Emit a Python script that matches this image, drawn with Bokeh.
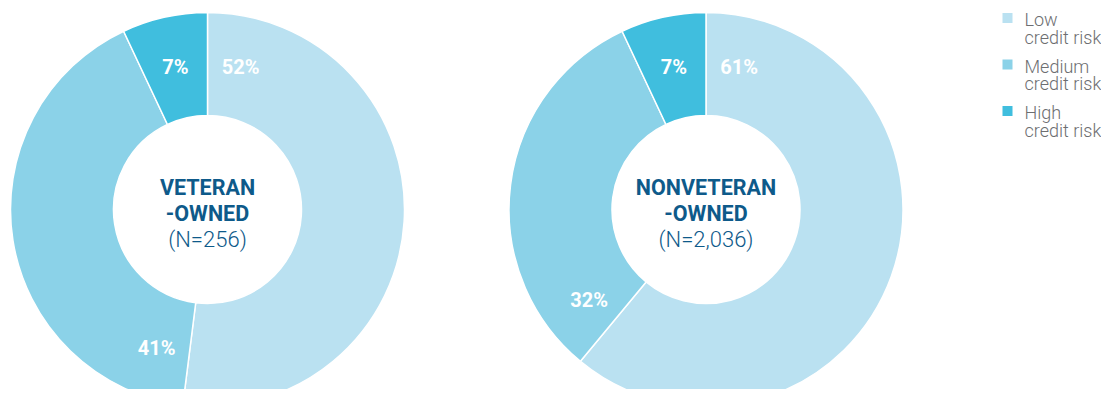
import math
from bokeh.plotting import figure
from bokeh.models import Range1d, ColumnDataSource
from bokeh.core.properties import value
from bokeh.embed import file_html
from bokeh.resources import INLINE

# ---- data ----
categories = ["Low", "Medium", "High"]
category_sub = ["credit risk", "credit risk", "credit risk"]
group_titles = ["VETERAN", "NONVETERAN"]
group_titles2 = ["-OWNED", "-OWNED"]
group_counts = ["(N=256)", "(N=2,036)"]
veteran = [52, 41, 7]
nonveteran = [61, 32, 7]
series = [veteran, nonveteran]

# ---- styles / layout ----
colors = ["#BAE1F1", "#8BD2E8", "#40BEDE"]
dark = "#0E5A8A"
grey = "#6D6E71"
W, H = 1101, 389
centers = [(207, 209), (705.5, 209)]  # image coords (x right, y down)
R_OUT, R_IN, R_LAB = 197, 94, 147

p = figure(width=W, height=H, x_range=Range1d(0, W), y_range=Range1d(0, H),
           output_backend="svg", toolbar_location=None, min_border=0,
           x_axis_type=None, y_axis_type=None)
p.grid.visible = False
p.outline_line_color = None
p.background_fill_color = "white"

bold = value("Roboto")
light = value("'Roboto Light', Roboto")

for (cx, cy_img), vals, t1, t2, tn in zip(centers, series, group_titles, group_titles2, group_counts):
    cy = H - cy_img
    total = float(sum(vals))
    cum = 0.0
    starts, ends, lx, ly, labels = [], [], [], [], []
    for v in vals:
        f0 = cum / total
        f1 = (cum + v) / total
        starts.append(math.pi / 2 - 2 * math.pi * f0)
        ends.append(math.pi / 2 - 2 * math.pi * f1)
        half = math.pi * (f1 - f0)
        a = 2 * math.pi * f0 + min(math.radians(13), half)
        lx.append(cx + R_LAB * math.sin(a))
        ly.append(cy + R_LAB * math.cos(a) - 1)
        labels.append(f"{v}%")
        cum += v
    src = ColumnDataSource(dict(start=starts, end=ends, color=colors))
    p.annular_wedge(x=cx, y=cy, inner_radius=R_IN, outer_radius=R_OUT,
                    start_angle="start", end_angle="end", direction="clock",
                    fill_color="color", line_color="white", line_width=1.5, source=src)
    p.text(x=lx, y=ly, text=labels, text_color="white", text_font=bold,
           text_font_style="bold", text_font_size="20px", text_align="center",
           text_baseline="middle")
    p.text(x=[cx, cx], y=[cy + 22, cy - 4], text=[t1, t2], text_color=dark,
           text_font=bold, text_font_style="bold", text_font_size="21.5px",
           text_align="center", text_baseline="middle")
    p.text(x=[cx], y=[cy - 30], text=[tn], text_color=dark, text_font=light,
           text_font_size="22px", text_align="center", text_baseline="middle")

# ---- legend ----
lg_x_sq, lg_x_txt = 1007, 1024
base0, step, sub_gap = 25.5, 46.5, 17.5
sq_y, t1_y, t2_y = [], [], []
for i in range(len(categories)):
    b = base0 + step * i
    t1_y.append(H - (b - 6.5))
    t2_y.append(H - (b + sub_gap - 6.5))
    sq_y.append(H - (b - 8))
p.rect(x=[lg_x_sq] * 3, y=sq_y, width=10, height=10, fill_color=colors, line_color=None)
p.text(x=[lg_x_txt] * 3, y=t1_y, text=categories, text_color=grey, text_font=light,
       text_font_size="18px", text_align="left", text_baseline="middle")
p.text(x=[lg_x_txt] * 3, y=t2_y, text=category_sub, text_color=grey, text_font=light,
       text_font_size="18px", text_align="left", text_baseline="middle")

open("out.html", "w").write(file_html(p, INLINE))
